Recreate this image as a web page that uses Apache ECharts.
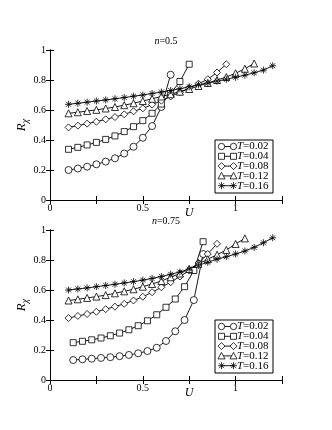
<!DOCTYPE html>
<html>
<head>
<meta charset="utf-8">
<script src="https://cdn.jsdelivr.net/npm/echarts@6/dist/echarts.min.js"></script>
<style>
html, body { margin: 0; padding: 0; background: #fff; }
#chart { width: 332px; height: 430px; }
</style>
</head>
<body>
<div id="chart"></div>
<script>
// panel n=0.5 : U values and R_chi for each temperature
var uTop = [0.1, 0.15, 0.2, 0.25, 0.3, 0.35, 0.4, 0.45, 0.5, 0.55, 0.6, 0.65,
    0.7, 0.75, 0.8, 0.85, 0.9, 0.95, 1.0, 1.05, 1.1, 1.15, 1.2];
var rTop02 = [0.20, 0.21, 0.222, 0.238, 0.256, 0.278, 0.31, 0.355, 0.415, 0.493, 0.62, 0.835];
var rTop04 = [0.338, 0.351, 0.367, 0.384, 0.404, 0.427, 0.456, 0.489, 0.529, 0.578, 0.64, 0.71, 0.79, 0.905];
var rTop08 = [0.484, 0.496, 0.509, 0.522, 0.538, 0.553, 0.571, 0.591, 0.611, 0.636, 0.662, 0.69,
    0.718, 0.746, 0.775, 0.805, 0.85, 0.905];
var rTop12 = [0.578, 0.585, 0.593, 0.601, 0.61, 0.62, 0.632, 0.645, 0.66, 0.675, 0.69, 0.705,
    0.722, 0.74, 0.76, 0.78, 0.80, 0.82, 0.845, 0.875, 0.91];
var rTop16 = [0.638, 0.645, 0.652, 0.66, 0.667, 0.675, 0.683, 0.692, 0.70, 0.71, 0.72, 0.73,
    0.742, 0.755, 0.768, 0.78, 0.792, 0.805, 0.818, 0.832, 0.848, 0.866, 0.895];

// panel n=0.75 : the two lowest T start at U=0.125
var uBotA = [0.125, 0.175, 0.225, 0.275, 0.325, 0.375, 0.425, 0.475, 0.525, 0.575, 0.625,
    0.675, 0.725, 0.775, 0.825];
var uBotB = [0.1, 0.15, 0.2, 0.25, 0.3, 0.35, 0.4, 0.45, 0.5, 0.55, 0.6, 0.65,
    0.7, 0.75, 0.8, 0.85, 0.9, 0.95, 1.0, 1.05, 1.1, 1.15, 1.2];
var rBot02 = [0.133, 0.138, 0.142, 0.147, 0.152, 0.159, 0.167, 0.178, 0.193, 0.215, 0.26, 0.325, 0.4, 0.533, 0.84];
var rBot04 = [0.249, 0.258, 0.268, 0.28, 0.295, 0.313, 0.335, 0.362, 0.395, 0.435, 0.485, 0.54, 0.622, 0.73, 0.922];
var rBot08 = [0.413, 0.427, 0.44, 0.455, 0.472, 0.489, 0.508, 0.53, 0.555, 0.585, 0.618, 0.652,
    0.69, 0.73, 0.78, 0.84, 0.908];
var rBot12 = [0.53, 0.538, 0.547, 0.556, 0.566, 0.578, 0.591, 0.605, 0.622, 0.64, 0.66, 0.685,
    0.71, 0.74, 0.775, 0.805, 0.835, 0.867, 0.907, 0.944];
var rBot16 = [0.60, 0.607, 0.614, 0.622, 0.63, 0.638, 0.647, 0.656, 0.666, 0.677, 0.69, 0.705,
    0.72, 0.74, 0.765, 0.785, 0.805, 0.822, 0.84, 0.86, 0.884, 0.915, 0.948];

var tempLabels = ['0.02', '0.04', '0.08', '0.12', '0.16'];
var panelTitles = ['0.5', '0.75'];
var xTicks = [0, 0.5, 1];

var FONT = '"Liberation Serif", "DejaVu Serif", serif';
// outline symbols as paths so the stroke width can be kept thin
var symbols = [
    'path://M0,5A5,5,0,1,1,10,5A5,5,0,1,1,0,5Z',
    'path://M0,0L10,0L10,10L0,10Z',
    'path://M5,0L10,5L5,10L0,5Z',
    'path://M5,0L10,9L0,9Z',
    'path://M5,0L5,10M0,5L10,5M1.5,1.5L8.5,8.5M1.5,8.5L8.5,1.5'
];
var sizes = [7, 6, 7, 7, 7];
var MARK_W = 0.8;

var grids = [
    {left: 50, top: 50, width: 232, height: 150},
    {left: 50, top: 230, width: 232, height: 150}
];

function makeSeries(k, u, r, g) {
    return {
        name: 'T=' + tempLabels[k],
        type: 'line',
        xAxisIndex: g * 2,
        yAxisIndex: g * 2,
        data: r.map(function (v, i) { return [u[i], v]; }),
        symbol: symbols[k],
        symbolSize: sizes[k],
        showAllSymbol: true,
        lineStyle: {color: '#000', width: 0.9},
        itemStyle: {color: '#fff', borderColor: '#000', borderWidth: MARK_W},
        emphasis: {disabled: true},
        animation: false
    };
}

var xAxes = [], yAxes = [];
grids.forEach(function (gr, g) {
    xAxes.push({
        gridIndex: g, type: 'value', min: 0, max: 1.25, interval: 0.25,
        name: 'U', nameLocation: 'middle', nameGap: 7, nameMoveOverlap: false,
        nameTextStyle: {fontFamily: FONT, fontStyle: 'italic', fontSize: 12, color: '#000',
            padding: [0, 0, 0, 46]},
        axisLine: {lineStyle: {color: '#000', width: 1}},
        axisTick: {inside: true, length: 4, lineStyle: {color: '#000'}},
        axisLabel: {
            fontFamily: FONT, fontSize: 10, color: '#000', margin: 3,
            formatter: function (v) { return xTicks.indexOf(v) >= 0 ? String(v) : ''; }
        },
        splitLine: {show: false}
    });
    xAxes.push({
        gridIndex: g, type: 'value', min: 0, max: 1.25, interval: 0.25, position: 'top',
        axisLine: {lineStyle: {color: '#000', width: 1}},
        axisTick: {inside: true, length: 4, lineStyle: {color: '#000'}},
        axisLabel: {show: false}, splitLine: {show: false}
    });
    yAxes.push({
        gridIndex: g, type: 'value', min: 0, max: 1, interval: 0.2,
        name: '{r|R}{s|\u03c7}', nameLocation: 'middle', nameGap: 20, nameRotate: 90,
        nameMoveOverlap: false,
        nameTextStyle: {
            rich: {
                r: {fontFamily: FONT, fontStyle: 'italic', fontSize: 13, color: '#000'},
                s: {fontFamily: FONT, fontStyle: 'italic', fontSize: 10, color: '#000',
                    verticalAlign: 'bottom', padding: [6, 0, 0, 0]}
            }
        },
        axisLine: {lineStyle: {color: '#000', width: 1}},
        axisTick: {inside: true, length: 4, lineStyle: {color: '#000'}},
        axisLabel: {fontFamily: FONT, fontSize: 10, color: '#000', margin: 4},
        splitLine: {show: false}
    });
    yAxes.push({
        gridIndex: g, type: 'value', min: 0, max: 1, interval: 0.2, position: 'right',
        axisLine: {lineStyle: {color: '#000', width: 1}},
        axisTick: {inside: true, length: 4, lineStyle: {color: '#000'}},
        axisLabel: {show: false}, splitLine: {show: false}
    });
});

var series = [
    makeSeries(0, uTop, rTop02, 0),
    makeSeries(1, uTop, rTop04, 0),
    makeSeries(2, uTop, rTop08, 0),
    makeSeries(3, uTop, rTop12, 0),
    makeSeries(4, uTop, rTop16, 0),
    makeSeries(0, uBotA, rBot02, 1),
    makeSeries(1, uBotA, rBot04, 1),
    makeSeries(2, uBotB, rBot08, 1),
    makeSeries(3, uBotB, rBot12, 1),
    makeSeries(4, uBotB, rBot16, 1)
];

// legend box drawn as graphic: marker - line - marker, then label
function legendMarker(k, cx, cy) {
    var st = {fill: '#fff', stroke: '#000', lineWidth: 0.8};
    if (k === 0) return {type: 'circle', shape: {cx: cx, cy: cy, r: 3.2}, style: st};
    if (k === 1) return {type: 'rect', shape: {x: cx - 3, y: cy - 3, width: 6, height: 6}, style: st};
    if (k === 2) return {type: 'polygon', shape: {points: [[cx, cy - 3.5], [cx + 3.5, cy], [cx, cy + 3.5], [cx - 3.5, cy]]}, style: st};
    if (k === 3) return {type: 'polygon', shape: {points: [[cx, cy - 3.5], [cx + 3.5, cy + 3], [cx - 3.5, cy + 3]]}, style: st};
    var ls = {stroke: '#000', lineWidth: 0.8};
    return {
        type: 'group', children: [
            {type: 'line', shape: {x1: cx, y1: cy - 3.5, x2: cx, y2: cy + 3.5}, style: ls},
            {type: 'line', shape: {x1: cx - 3.5, y1: cy, x2: cx + 3.5, y2: cy}, style: ls},
            {type: 'line', shape: {x1: cx - 2.5, y1: cy - 2.5, x2: cx + 2.5, y2: cy + 2.5}, style: ls},
            {type: 'line', shape: {x1: cx - 2.5, y1: cy + 2.5, x2: cx + 2.5, y2: cy - 2.5}, style: ls}
        ]
    };
}

function legendGraphic(gr) {
    var x0 = gr.left + 165, y0 = gr.top + 90;
    var kids = [{type: 'rect', shape: {x: x0, y: y0, width: 58, height: 53},
        style: {fill: '#fff', stroke: '#000', lineWidth: 1}}];
    tempLabels.forEach(function (t, k) {
        var cy = y0 + 6.5 + k * 9.8;
        kids.push({type: 'line', shape: {x1: x0 + 6.5, y1: cy, x2: x0 + 18.5, y2: cy},
            style: {stroke: '#000', lineWidth: 0.9}});
        kids.push(legendMarker(k, x0 + 6.5, cy));
        kids.push(legendMarker(k, x0 + 18.5, cy));
        kids.push({type: 'text', x: x0 + 22, y: cy, style: {
            text: '{i|T}{n|=' + t + '}', verticalAlign: 'middle', fill: '#000',
            rich: {
                i: {fontFamily: FONT, fontStyle: 'italic', fontSize: 11, fill: '#000'},
                n: {fontFamily: FONT, fontSize: 11, fill: '#000'}
            }
        }});
    });
    return {type: 'group', z: 100, children: kids};
}

var chart = echarts.init(document.getElementById('chart'), null, {renderer: 'canvas'});
chart.setOption({
    backgroundColor: '#fff',
    animation: false,
    title: panelTitles.map(function (p, g) {
        return {
            text: '{i|n}{n|=' + p + '}', left: 'center', top: grids[g].top - 19,
            textStyle: {
                fontWeight: 'normal',
                rich: {
                    i: {fontFamily: FONT, fontStyle: 'italic', fontWeight: 'normal', fontSize: 10, color: '#000'},
                    n: {fontFamily: FONT, fontWeight: 'normal', fontSize: 10, color: '#000'}
                }
            }
        };
    }),
    grid: grids,
    xAxis: xAxes,
    yAxis: yAxes,
    series: series,
    graphic: grids.map(legendGraphic)
});
</script>
</body>
</html>
